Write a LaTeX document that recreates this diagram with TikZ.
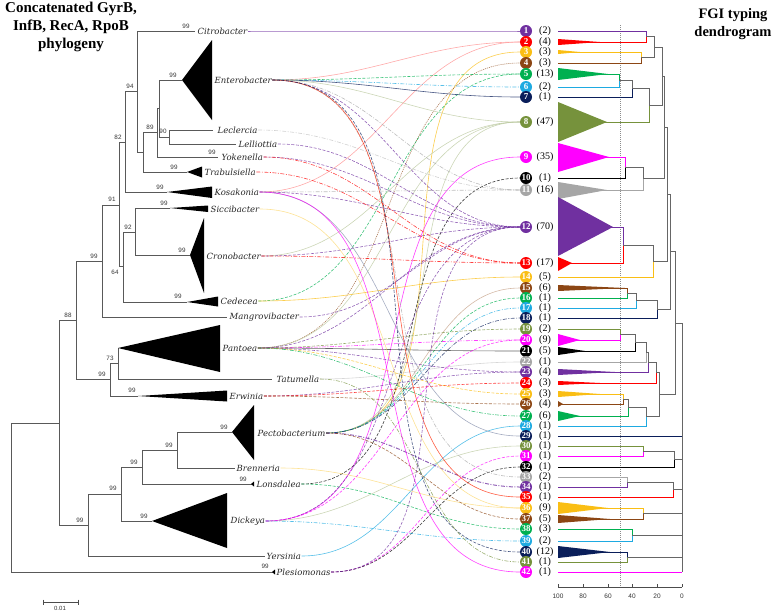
\documentclass[tikz,border=0pt]{standalone}
\usepackage{fontspec}
\setmainfont{Liberation Serif}
\setsansfont{Liberation Sans}
\newfontfamily\spfont{DejaVu Serif}
\definecolor{cP}{RGB}{112,48,160}
\definecolor{cR}{RGB}{255,0,0}
\definecolor{cG}{RGB}{250,190,20}
\definecolor{cB}{RGB}{140,70,20}
\definecolor{cGr}{RGB}{0,176,80}
\definecolor{cS}{RGB}{30,170,225}
\definecolor{cN}{RGB}{10,30,90}
\definecolor{cO}{RGB}{118,146,60}
\definecolor{cM}{RGB}{255,0,255}
\definecolor{cK}{RGB}{0,0,0}
\definecolor{cY}{RGB}{166,166,166}
\newcommand\dlk[5]{\draw[dl,#1] (#2,#3) -- (#4,#3) -- (#4,#5);}
\newcommand\cx[4]{\draw[cn,#3,#4] (#1.east) to[out=0,in=180] (#2.west);}
\begin{document}
\begin{tikzpicture}[x=1pt,y=-1pt,
 tl/.style={draw=black!65,line width=0.6pt},
 bs/.style={font=\sffamily\fontsize{6.3}{7}\selectfont, inner sep=0pt, text=black!80},
 sp/.style={font=\spfont\itshape\fontsize{8.5}{10}\selectfont, inner sep=0.5pt, anchor=west, text=black!85},
 circ/.style={circle, minimum size=12pt, inner sep=0pt, text=white, font=\fontsize{9}{9}\selectfont\bfseries},
 cnt/.style={font=\fontsize{10}{10}\selectfont, inner sep=0pt},
 cn/.style={line width=0.6pt, opacity=0.75},
 dsh/.style={dash pattern=on 3pt off 1.5pt},
 dd/.style={dash pattern=on 4pt off 1.5pt on 1pt off 1.5pt},
 dt/.style={dash pattern=on 1pt off 1pt},
 dl/.style={line width=0.8pt},
]
\useasboundingbox (0,0) rectangle (778,614);

% titles
\node[font=\bfseries\fontsize{15}{18}\selectfont, align=center] (t1) at (71,27) {Concatenated GyrB,\\InfB, RecA, RpoB\\phylogeny};
\node[font=\bfseries\fontsize{14.5}{18}\selectfont, align=center] (t2) at (733,24) {FGI typing\\dendrogram};

% ---------------- phylogeny ----------------
\draw[tl] (11,423) -- (11,572);
\draw[tl] (11,423) -- (59,423);
\draw[tl] (11,572) -- (273,572);
\draw[tl] (59,320) -- (59,525);
\draw[tl] (59,320) -- (76,320);
\draw[tl] (59,525) -- (88,525);
\draw[tl] (76,261) -- (76,379);
\draw[tl] (76,261) -- (102,261);
\draw[tl] (76,379) -- (110,379);
\draw[tl] (102,205) -- (102,317);
\draw[tl] (102,205) -- (119,205);
\draw[tl] (102,317) -- (227,317);
\draw[tl] (119,142) -- (119,266);
\draw[tl] (119,142) -- (125,142);
\draw[tl] (119,266) -- (123,266);
\draw[tl] (125,91.5) -- (125,192);
\draw[tl] (125,91.5) -- (137,91.5);
\draw[tl] (125,192) -- (167,192);
\draw[tl] (137,31) -- (137,152);
\draw[tl] (137,31) -- (195,31);
\draw[tl] (137,152) -- (143,152);
\draw[tl] (143,132.5) -- (143,172);
\draw[tl] (143,132.5) -- (157,132.5);
\draw[tl] (143,172) -- (187,172);
\draw[tl] (157,108) -- (157,157);
\draw[tl] (157,108) -- (159,108);
\draw[tl] (157,157) -- (218,157);
\draw[tl] (159,80) -- (159,137);
\draw[tl] (159,80) -- (182,80);
\draw[tl] (159,137) -- (169,137);
\draw[tl] (169,130) -- (169,144);
\draw[tl] (169,130) -- (213,130);
\draw[tl] (169,144) -- (236,144);
\draw[tl] (123,232) -- (123,302);
\draw[tl] (123,232) -- (135,232);
\draw[tl] (123,302) -- (187,302);
\draw[tl] (135,208) -- (135,255);
\draw[tl] (135,208) -- (170,208);
\draw[tl] (135,255) -- (190,255);
\draw[tl] (110,363) -- (110,396);
\draw[tl] (110,363) -- (118,363);
\draw[tl] (110,396) -- (138,396);
\draw[tl] (118,348) -- (118,379);
\draw[tl] (118,379) -- (272,379);
\draw[tl] (88,494) -- (88,556);
\draw[tl] (88,494) -- (121,494);
\draw[tl] (88,556) -- (265,556);
\draw[tl] (121,467) -- (121,521);
\draw[tl] (121,467) -- (142,467);
\draw[tl] (121,521) -- (152,521);
\draw[tl] (142,450) -- (142,484);
\draw[tl] (142,450) -- (177,450);
\draw[tl] (142,484) -- (252,484);
\draw[tl] (177,432) -- (177,468);
\draw[tl] (177,432) -- (232,432);
\draw[tl] (177,468) -- (235,468);

% collapsed clades
\fill (182,80) -- (212,40) -- (212,120) -- cycle;
\fill (167,192) -- (212,186.5) -- (212,198) -- cycle;
\fill (187,172) -- (202,166.5) -- (202,177.5) -- cycle;
\fill (170,208) -- (208,205.5) -- (208,212) -- cycle;
\fill (190,255) -- (204,218) -- (204,293) -- cycle;
\fill (187,302) -- (218,296.5) -- (218,306.5) -- cycle;
\fill (118,348) -- (220,325) -- (220,372) -- cycle;
\fill (138,396) -- (227,390.5) -- (227,401.5) -- cycle;
\fill (232,432) -- (254,405) -- (254,460) -- cycle;
\fill (152,521) -- (227,493) -- (227,548) -- cycle;
\fill (251,484) -- (254,481.5) -- (254,486.5) -- cycle;
\fill (272,572) -- (275,569.5) -- (275,574.5) -- cycle;

% bootstrap values
\node[bs] (b1) at (186,26) {99};
\node[bs] (b2) at (130,86) {94};
\node[bs] (b3) at (173,75) {99};
\node[bs] (b4) at (150,127) {89};
\node[bs] (b5) at (163,131) {90};
\node[bs] (b6) at (212,152) {99};
\node[bs] (b7) at (174,167) {99};
\node[bs] (b8) at (160,187) {99};
\node[bs] (b9) at (118,137) {82};
\node[bs] (b10) at (112,199) {91};
\node[bs] (b11) at (164,203) {99};
\node[bs] (b12) at (128,227) {92};
\node[bs] (b13) at (182,250) {99};
\node[bs] (b14) at (115,272) {64};
\node[bs] (b15) at (178,296) {99};
\node[bs] (b16) at (94,256) {99};
\node[bs] (b17) at (68,315) {88};
\node[bs] (b18) at (110,358) {73};
\node[bs] (b19) at (102,374) {99};
\node[bs] (b20) at (132,390) {99};
\node[bs] (b21) at (224,427) {99};
\node[bs] (b22) at (169,445) {99};
\node[bs] (b23) at (134,462) {99};
\node[bs] (b24) at (243,479) {99};
\node[bs] (b25) at (113,488) {99};
\node[bs] (b26) at (144,516) {99};
\node[bs] (b27) at (80,520) {99};
\node[bs] (b28) at (265,566) {99};

% taxa labels
\node[sp] (Citro) at (197,31) {Citrobacter};
\node[sp] (Entero) at (214,80) {Enterobacter};
\node[sp] (Lecl) at (217,130) {Leclercia};
\node[sp] (Lell) at (238,144) {Lelliottia};
\node[sp] (Yoke) at (221,157) {Yokenella};
\node[sp] (Trab) at (204,172) {Trabulsiella};
\node[sp] (Kosa) at (214,192) {Kosakonia};
\node[sp] (Sicc) at (210,209) {Siccibacter};
\node[sp] (Crono) at (206,256) {Cronobacter};
\node[sp] (Cede) at (220,301) {Cedecea};
\node[sp] (Mang) at (229,317) {Mangrovibacter};
\node[sp] (Pant) at (222,348) {Pantoea};
\node[sp] (Tatu) at (276,379) {Tatumella};
\node[sp] (Erwi) at (229,396) {Erwinia};
\node[sp] (Pect) at (257,433) {Pectobacterium};
\node[sp] (Bren) at (236,468) {Brenneria};
\node[sp] (Lons) at (256,484) {Lonsdalea};
\node[sp] (Dick) at (230,521) {Dickeya};
\node[sp] (Yers) at (266,556) {Yersinia};
\node[sp] (Ples) at (276,572) {Plesiomonas};

% scale bar
\draw[black!70,line width=0.6pt] (43,602) -- (78,602);
\draw[black!70,line width=0.6pt] (43,599.5) -- (43,604.5);
\draw[black!70,line width=0.6pt] (78,599.5) -- (78,604.5);
\node[font=\sffamily\fontsize{6}{7}\selectfont, text=black!80] (sc) at (60,608.5) {0.01};

% ---------------- FGI clusters ----------------
\foreach \i/\y/\c/\n in {1/31/cP/2,2/42/cR/4,3/52/cG/3,4/63/cB/3,5/74/cGr/13,6/87/cS/2,7/97/cN/1,8/122/cO/47,9/157/cM/35,10/178/cK/1,11/190/cY/16,12/227/cP/70,13/263/cR/17,14/277/cG/5,15/288/cB/6,16/298/cGr/1,17/308/cS/1,18/318/cN/1,19/329/cO/2,20/340/cM/9,21/351/cK/5,22/362/cY/1,23/372/cP/4,24/383/cR/3,25/394/cG/3,26/404/cB/4,27/416/cGr/6,28/426/cS/1,29/436/cN/1,30/446/cO/1,31/456/cM/1,32/467/cK/1,33/477/cY/2,34/487/cP/1,35/497/cR/1,36/508/cG/9,37/519/cB/5,38/529/cGr/3,39/541/cS/2,40/552/cN/12,41/562/cO/1,42/572/cM/1}
{\node[circ,fill=\c] (n\i) at (526,\y) {\i};
 \node[cnt] (k\i) at (545,\y) {(\n)};}

% ---------------- connectors ----------------
\cx{Citro}{n1}{cP}{}
\cx{Entero}{n2}{cR!45}{}
\cx{Kosa}{n2}{cR!45}{}
\cx{Pect}{n3}{cG}{}
\cx{Pant}{n4}{cB}{dt}
\cx{Entero}{n5}{cGr}{dsh}
\cx{Cede}{n5}{cGr}{dsh}
\cx{Entero}{n6}{cS}{dd}
\cx{Entero}{n7}{cN}{}
\cx{Entero}{n8}{cO!50}{}
\cx{Pant}{n8}{cO!50}{}
\cx{Pect}{n8}{cO!50}{}
\cx{Crono}{n8}{cO!50}{}
\cx{Dick}{n9}{cM}{}
\cx{Lons}{n10}{cK}{dsh}
\cx{Entero}{n11}{cY}{dd}
\cx{Lecl}{n11}{cY!70}{dd}
\cx{Kosa}{n11}{cY}{dd}
\cx{Entero}{n12}{cP}{dsh}
\cx{Lell}{n12}{cP}{dsh}
\cx{Yoke}{n12}{cP}{dsh}
\cx{Kosa}{n12}{cP}{dsh}
\cx{Crono}{n12}{cP}{dsh}
\cx{Mang}{n12}{cP}{dsh}
\cx{Pant}{n12}{cP}{dsh}
\cx{Dick}{n12}{cP}{dsh}
\cx{Yoke}{n13}{cR}{dd}
\cx{Trab}{n13}{cR}{dd}
\cx{Crono}{n13}{cR}{dd}
\cx{Cede}{n14}{cG}{}
\cx{Pect}{n15}{cB!50}{}
\cx{Pect}{n16}{cGr}{dsh}
\cx{Pect}{n17}{cS}{dd}
\cx{Pect}{n18}{cN}{dd}
\cx{Pant}{n19}{cO}{dsh}
\cx{Pant}{n20}{cM}{dd}
\cx{Pant}{n21}{cK!80}{}
\cx{Tatu}{n22}{cY!60}{}
\cx{Pant}{n23}{cP}{dsh}
\cx{Erwi}{n23}{cP}{dsh}
\cx{Erwi}{n24}{cR}{dsh}
\cx{Pant}{n25}{cG}{dsh}
\cx{Erwi}{n26}{cB}{dsh}
\cx{Pant}{n27}{cGr}{dd}
\cx{Yers}{n28}{cS}{}
\cx{Kosa}{n29}{cN!50}{}
\cx{Dick}{n30}{cO!50}{}
\cx{Ples}{n31}{cM}{dsh}
\cx{Ples}{n32}{cK}{dsh}
\cx{Entero}{n33}{cY}{dd}
\draw[cn,cP,line width=1pt,dd] (Pect.east) to[out=0,in=180] (n34.west);
\cx{Entero}{n35}{cR!80!cG}{}
\cx{Sicc}{n36}{cG!60}{}
\cx{Bren}{n36}{cG!60}{}
\cx{Pect}{n37}{cB}{dsh}
\cx{Lons}{n38}{cGr}{dsh}
\cx{Dick}{n39}{cS}{dd}
\cx{Entero}{n40}{cN}{dsh}
\cx{Tatu}{n41}{cO}{dd}
\cx{Kosa}{n42}{cM}{}
\cx{Ples}{n12}{cP}{dsh}
\cx{Dick}{n20}{cM}{dsh}

% ---------------- dendrogram ----------------
\draw[black!45,dt,line width=0.6pt] (620,25) -- (620,587);
\fill[cR] (558,39) -- (600,42) -- (558,45) -- cycle;
\fill[cG] (558,50) -- (580,52) -- (558,54) -- cycle;
\fill[cGr] (558,68) -- (608,74) -- (558,80) -- cycle;
\fill[cO] (558,102) -- (607,122) -- (558,142) -- cycle;
\fill[cM] (558,143) -- (609,157) -- (558,172) -- cycle;
\fill[cY] (558,182) -- (607,190) -- (558,199) -- cycle;
\fill[cP] (558,197) -- (613,227) -- (558,256) -- cycle;
\fill[cR] (558,257) -- (572,263) -- (558,271) -- cycle;
\fill[cB] (558,285) -- (625,288) -- (558,291) -- cycle;
\fill[cM] (558,334) -- (580,340) -- (558,346) -- cycle;
\fill[cK] (558,347) -- (585,351) -- (558,355) -- cycle;
\fill[cP] (558,369) -- (615,372) -- (558,375) -- cycle;
\fill[cR] (558,381) -- (600,383) -- (558,385) -- cycle;
\fill[cG] (558,391) -- (600,394) -- (558,397) -- cycle;
\fill[cB] (558,401) -- (563,404) -- (558,407) -- cycle;
\fill[cGr] (558,411) -- (580,416) -- (558,421) -- cycle;
\fill[cG] (558,502) -- (608,508) -- (558,514) -- cycle;
\fill[cB] (558,515) -- (610,519) -- (558,523) -- cycle;
\fill[cN] (558,546) -- (610,552) -- (558,558) -- cycle;

\dlk{cP}{558}{31}{646}{36.5}
\dlk{cR}{558}{42}{646}{36.5}
\dlk{cG}{558}{52}{641}{57.5}
\dlk{cB}{558}{63}{641}{57.5}
\dlk{cGr}{558}{74}{619}{80.5}
\dlk{cS}{558}{87}{619}{80.5}
\dlk{cN}{558}{97}{632}{88.75}
\dlk{cO}{558}{122}{649}{105.4}
\dlk{cM}{558}{157}{625}{167.5}
\dlk{cK}{558}{178}{625}{167.5}
\dlk{cY}{558}{190}{643}{178.75}
\dlk{cP}{558}{227}{623}{245}
\dlk{cR}{558}{263}{623}{245}
\dlk{cG}{558}{277}{653}{261}
\dlk{cB}{558}{288}{627}{293}
\dlk{cGr}{558}{298}{627}{293}
\dlk{cS}{558}{308}{636}{300.5}
\dlk{cN}{558}{318}{657}{309}
\dlk{cO}{558}{329}{620}{334.5}
\dlk{cM}{558}{340}{620}{334.5}
\dlk{cK}{558}{351}{635}{342.75}
\dlk{cY}{558}{362}{646}{352.4}
\dlk{cP}{558}{372}{648}{362.2}
\dlk{cR}{558}{383}{656}{372.6}
\dlk{cG}{558}{394}{623}{399}
\dlk{cB}{558}{404}{623}{399}
\dlk{cGr}{558}{416}{628}{407.5}
\dlk{cS}{558}{426}{646}{416.75}
\dlk{cN}{558}{436}{682}{436}
\dlk{cO}{558}{446}{643}{451}
\dlk{cM}{558}{456}{643}{451}
\dlk{cK}{558}{467}{674}{459}
\dlk{cY}{558}{477}{627}{482}
\dlk{cP}{558}{487}{627}{482}
\dlk{cR}{558}{497}{673}{489.5}
\dlk{cG}{558}{508}{643}{513.5}
\dlk{cB}{558}{519}{643}{513.5}
\dlk{cGr}{558}{529}{632}{535}
\dlk{cS}{558}{541}{632}{535}
\dlk{cN}{558}{552}{627}{557}
\dlk{cO}{558}{562}{627}{557}
\dlk{cM}{558}{572}{682}{572}

\dlk{black!60}{646}{36.5}{654}{47}
\dlk{black!60}{641}{57.5}{654}{47}
\dlk{black!60}{654}{47}{662}{76.2}
\dlk{black!60}{619}{80.5}{632}{88.75}
\dlk{black!60}{632}{88.75}{649}{105.4}
\dlk{black!60}{649}{105.4}{662}{76.2}
\dlk{black!60}{662}{76.2}{664}{127.5}
\dlk{black!60}{625}{167.5}{643}{178.75}
\dlk{black!60}{643}{178.75}{664}{127.5}
\dlk{black!60}{664}{127.5}{667}{194}
\dlk{black!60}{623}{245}{653}{261}
\dlk{black!60}{653}{261}{667}{194}
\dlk{black!60}{667}{194}{670}{251.5}
\dlk{black!60}{627}{293}{636}{300.5}
\dlk{black!60}{636}{300.5}{657}{309}
\dlk{black!60}{657}{309}{670}{251.5}
\dlk{black!60}{670}{251.5}{675}{323}
\dlk{black!60}{620}{334.5}{635}{342.75}
\dlk{black!60}{635}{342.75}{646}{352.4}
\dlk{black!60}{646}{352.4}{648}{362.2}
\dlk{black!60}{648}{362.2}{656}{372.6}
\dlk{black!60}{656}{372.6}{659}{394.7}
\dlk{black!60}{623}{399}{628}{407.5}
\dlk{black!60}{628}{407.5}{646}{416.75}
\dlk{black!60}{646}{416.75}{659}{394.7}
\dlk{black!60}{659}{394.7}{675}{323}
\dlk{black!60}{675}{323}{682}{323}
\dlk{black!60}{643}{451}{674}{459}
\dlk{black!60}{674}{459}{682}{459}
\dlk{black!60}{627}{482}{673}{489.5}
\dlk{black!60}{673}{489.5}{682}{489.5}
\dlk{black!60}{643}{513.5}{682}{513.5}
\dlk{black!60}{632}{535}{682}{535}
\dlk{black!60}{627}{557}{682}{557}
\draw[dl,black!60] (682,323) -- (682,572);

% axis
\draw[black!70,line width=0.6pt] (558,587) -- (682,587);
\foreach \v/\xx in {100/558,80/583,60/608,40/632,20/657,0/682}
{\draw[black!70,line width=0.6pt] (\xx,584) -- (\xx,587);
 \node[font=\sffamily\fontsize{6.5}{7}\selectfont, text=black!80] (ax\v) at (\xx,596) {\v};}
\end{tikzpicture}
\end{document}
